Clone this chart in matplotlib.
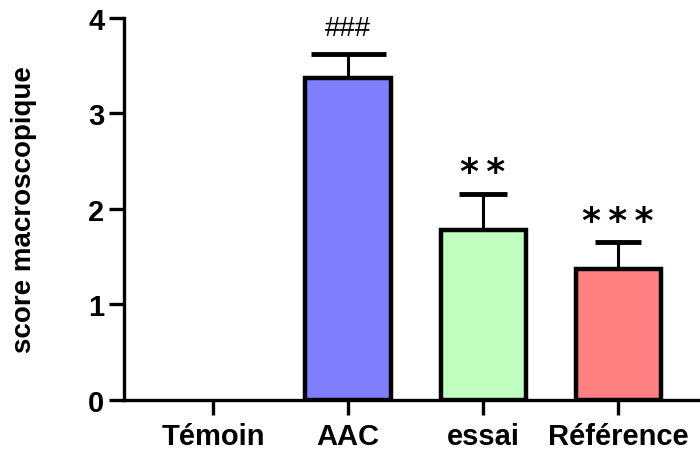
import matplotlib
matplotlib.use("Agg")
import matplotlib.pyplot as plt

categories = ["Témoin", "AAC", "essai", "Référence"]
means = [0.0, 3.375, 1.78, 1.37]
errors = [0.0, 0.25, 0.38, 0.28]
colors = ["#FFFFFF", "#8080FF", "#C0FFC0", "#FF8080"]
annotations = ["", "###", "**", "***"]
capsizes = [0, 27, 17.5, 16.5]

plt.rcParams['font.family'] = ['Liberation Sans', 'DejaVu Sans']

fig = plt.figure(figsize=(7, 4.52), dpi=100)
ax = fig.add_axes([0.177, 0.113, 0.823, 0.845])

x = list(range(len(categories)))
for i in x:
    if means[i] > 0:
        ax.bar(i, means[i], width=0.63, color=colors[i], edgecolor="black",
               linewidth=3.2, zorder=2)
        ax.errorbar(i, means[i], yerr=[[0], [errors[i]]], fmt="none",
                    ecolor="black", elinewidth=2.2, capsize=capsizes[i],
                    capthick=3.5, zorder=1)

for i, a in enumerate(annotations):
    if not a:
        continue
    top = means[i] + errors[i]
    if a.startswith("#"):
        ax.text(i, top + 0.13, a, ha="center", va="bottom", fontsize=20,
                fontweight="normal")
    else:
        ax.text(i, top + 0.05, "\u2009".join(a), ha="center", va="bottom",
                fontsize=26, fontweight="heavy", family="DejaVu Sans")

ax.set_xlim(-0.66, 3.607)
ax.set_ylim(0, 4)
ax.set_yticks([0, 1, 2, 3, 4])
ax.set_xticks(x)
ax.set_xticklabels(categories)
ax.spines['top'].set_visible(False)
ax.spines['right'].set_visible(False)
ax.spines['left'].set_linewidth(2.4)
ax.spines['bottom'].set_linewidth(2.4)
ax.tick_params(axis='both', width=2.4, length=11, labelsize=21)
ax.tick_params(axis='x', pad=5)
ax.tick_params(axis='y', pad=3)
for lab in ax.get_xticklabels() + ax.get_yticklabels():
    lab.set_fontweight("bold")
ax.set_ylabel("score macroscopique", fontsize=20, fontweight="bold")
ax.yaxis.set_label_coords(-0.15, 0.5)

fig.savefig("out.png", dpi=100)
